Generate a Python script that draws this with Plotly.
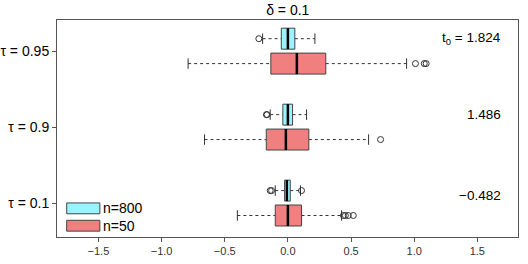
import plotly.graph_objects as go

# ---- data ----
groups = ["τ = 0.1", "τ = 0.9", "τ = 0.95"]
t0_labels = ["−0.482", "1.486", "t<sub>0</sub> = 1.824"]
series_names = ["n=800", "n=50"]
series_colors = ["#98F5FF", "#F08080"]

# per series, per group: [lower whisker, q1, median, q3, upper whisker]
stats_n800 = [
    [-0.10, -0.026, -0.008, 0.019, 0.100],
    [-0.14, -0.040, 0.000, 0.037, 0.148],
    [-0.20, -0.052, 0.000, 0.055, 0.214],
]
stats_n50 = [
    [-0.40, -0.100, 0.000, 0.108, 0.425],
    [-0.66, -0.171, -0.016, 0.166, 0.639],
    [-0.79, -0.135, 0.071, 0.300, 0.940],
]
outliers_n800 = [
    [-0.129, -0.140, 0.108],
    [-0.170, -0.165],
    [-0.230],
]
outliers_n50 = [
    [0.440, 0.478, 0.518, 0.455],
    [0.734],
    [1.010, 1.080, 1.095],
]

all_stats = [stats_n800, stats_n50]
all_out = [outliers_n800, outliers_n50]

# ---- layout helpers ----
offsets = [0.164, -0.164]   # cyan above, red below
half_h = 0.138
cap_h = 0.069

fig = go.Figure()
for s in range(2):
    for g in range(3):
        lo, q1, med, q3, hi = all_stats[s][g]
        yc = g + offsets[s]
        # whiskers (dashed)
        for a, b in [(lo, q1), (q3, hi)]:
            fig.add_trace(go.Scatter(x=[a, b], y=[yc, yc], mode="lines",
                                     line=dict(color="#333333", width=1, dash="dot"),
                                     showlegend=False, hoverinfo="skip"))
        # caps
        for v in (lo, hi):
            fig.add_trace(go.Scatter(x=[v, v], y=[yc - cap_h, yc + cap_h], mode="lines",
                                     line=dict(color="#333333", width=1),
                                     showlegend=False, hoverinfo="skip"))
        # box
        fig.add_trace(go.Scatter(x=[q1, q3, q3, q1, q1],
                                 y=[yc - half_h, yc - half_h, yc + half_h, yc + half_h, yc - half_h],
                                 mode="lines", fill="toself", fillcolor=series_colors[s],
                                 line=dict(color="#444444", width=1),
                                 showlegend=False, hoverinfo="skip"))
        # median
        fig.add_trace(go.Scatter(x=[med, med], y=[yc - half_h, yc + half_h], mode="lines",
                                 line=dict(color="#000000", width=2.5),
                                 showlegend=False, hoverinfo="skip"))
        # outliers
        outs = all_out[s][g]
        fig.add_trace(go.Scatter(x=outs, y=[yc] * len(outs), mode="markers",
                                 marker=dict(symbol="circle-open", size=6,
                                             color="#333333", line=dict(width=1)),
                                 showlegend=False, hoverinfo="skip"))

# right-hand t0 labels
for g in range(3):
    fig.add_annotation(x=1.0, xref="paper", xanchor="right", xshift=-15,
                       y=g + offsets[0] - (0.06 if g == 0 else 0), yref="y",
                       yanchor="middle",
                       text=t0_labels[g], showarrow=False,
                       font=dict(size=13.5, color="#000000"))

# manual legend (bottom-left inside plot)
leg_x0, leg_x1 = 0.021, 0.093
leg_rows = [(0.157, 0.107), (0.077, 0.027)]
for s in range(2):
    ytop, ybot = leg_rows[s]
    fig.add_shape(type="rect", xref="paper", yref="paper",
                  x0=leg_x0, x1=leg_x1, y0=ybot, y1=ytop,
                  fillcolor=series_colors[s], line=dict(color="#444444", width=1))
    fig.add_annotation(x=leg_x1, xref="paper", xanchor="left", xshift=1,
                       y=(ytop + ybot) / 2, yref="paper", yanchor="middle",
                       text=series_names[s],
                       showarrow=False, font=dict(size=14, color="#000000"))

fig.update_layout(
    width=528, height=264,
    margin=dict(l=57, r=10, t=20, b=27),
    paper_bgcolor="white", plot_bgcolor="white",
    font=dict(family="Liberation Sans, Arial, sans-serif", color="#000000"),
    title=dict(text="δ = 0.1", x=0.545, xanchor="center", y=0.962, yanchor="middle",
               font=dict(size=14)),
    showlegend=False,
)
fig.update_xaxes(range=[-1.828, 1.822], tickvals=[-1.5, -1.0, -0.5, 0.0, 0.5, 1.0, 1.5],
                 ticktext=["−1.5", "−1.0", "−0.5", "0.0", "0.5", "1.0", "1.5"],
                 automargin=False,
                 showgrid=False, zeroline=False, showline=True, mirror=True,
                 linecolor="#555555", linewidth=1, ticks="outside", ticklen=4,
                 tickcolor="#555555", tickfont=dict(size=11, color="#333333"))
fig.update_yaxes(range=[-0.447, 2.41], tickvals=[0, 1, 2], ticktext=groups,
                 automargin=False,
                 showgrid=False, zeroline=False, showline=True, mirror=True,
                 linecolor="#555555", linewidth=1, ticks="outside", ticklen=4,
                 tickcolor="#555555", tickfont=dict(size=14, color="#000000"))

fig.write_html("out.html", config={"displayModeBar": False},
               post_script="document.body.style.margin='0';document.body.style.overflow='hidden';")
